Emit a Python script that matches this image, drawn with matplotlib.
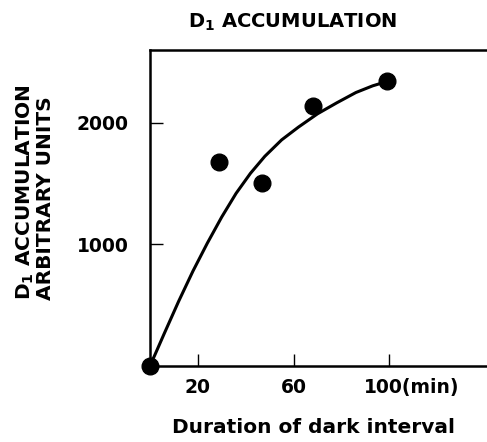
import numpy as np
import matplotlib
matplotlib.use("Agg")
from matplotlib import pyplot as plt
from matplotlib.transforms import ScaledTranslation

# measured points
dark_min = [0, 29, 47, 68, 99]
accum = [0, 1674, 1502, 2140, 2343]

# hand drawn fit curve
curve_x = [0, 2, 6, 12, 18, 24, 30, 36, 42, 48, 55, 62, 70, 78, 86, 93, 98]
curve_y = [0, 85, 265, 530, 780, 1010, 1225, 1420, 1585, 1725, 1860, 1965,
           2075, 2165, 2250, 2305, 2335]

xticks = [20, 60, 100]
xtick_labels = ['20', '60', '100(min)']
yticks = [1000, 2000]

plt.rcParams['font.family'] = ['DejaVu Sans']
plt.rcParams['font.weight'] = 'bold'

fig = plt.figure(figsize=(4.87, 4.42), dpi=100)
ax = fig.add_axes([0.3076, 0.1722, 0.6924, 0.7147])

ax.plot(curve_x, curve_y, color='black', lw=2.2, solid_joinstyle='round')
ax.plot(dark_min, accum, 'o', color='black', ms=12, clip_on=False, zorder=5)

ax.set_xlim(0, 140.7)
ax.set_ylim(0, 2600)
ax.spines['right'].set_visible(False)
for s in ['left', 'bottom', 'top']:
    ax.spines[s].set_linewidth(1.8)

ax.set_xticks(xticks)
ax.set_xticklabels(xtick_labels)
ax.set_yticks(yticks)
ax.tick_params(direction='in', length=9, width=1, labelsize=13.5, pad=9)
ax.tick_params(axis='y', pad=15)
last = ax.get_xticklabels()[-1]
last.set_ha('left')
last.set_transform(last.get_transform() + ScaledTranslation(-0.26, 0, fig.dpi_scale_trans))
for lab in ax.get_xticklabels() + ax.get_yticklabels():
    lab.set_fontweight('bold')

fig.text(0.60, 0.95, 'D$_1$ ACCUMULATION', ha='center', va='center',
         fontsize=14, fontweight='bold')
fig.text(0.643, 0.032, 'Duration of dark interval', ha='center', va='center',
         fontsize=14.5, fontweight='bold')
fig.text(0.072, 0.565, 'D$_1$ ACCUMULATION\nARBITRARY UNITS', rotation=90,
         ha='center', va='center', multialignment='left', fontsize=14.5,
         fontweight='bold', linespacing=1.0)

fig.savefig('out.png', dpi=100)
